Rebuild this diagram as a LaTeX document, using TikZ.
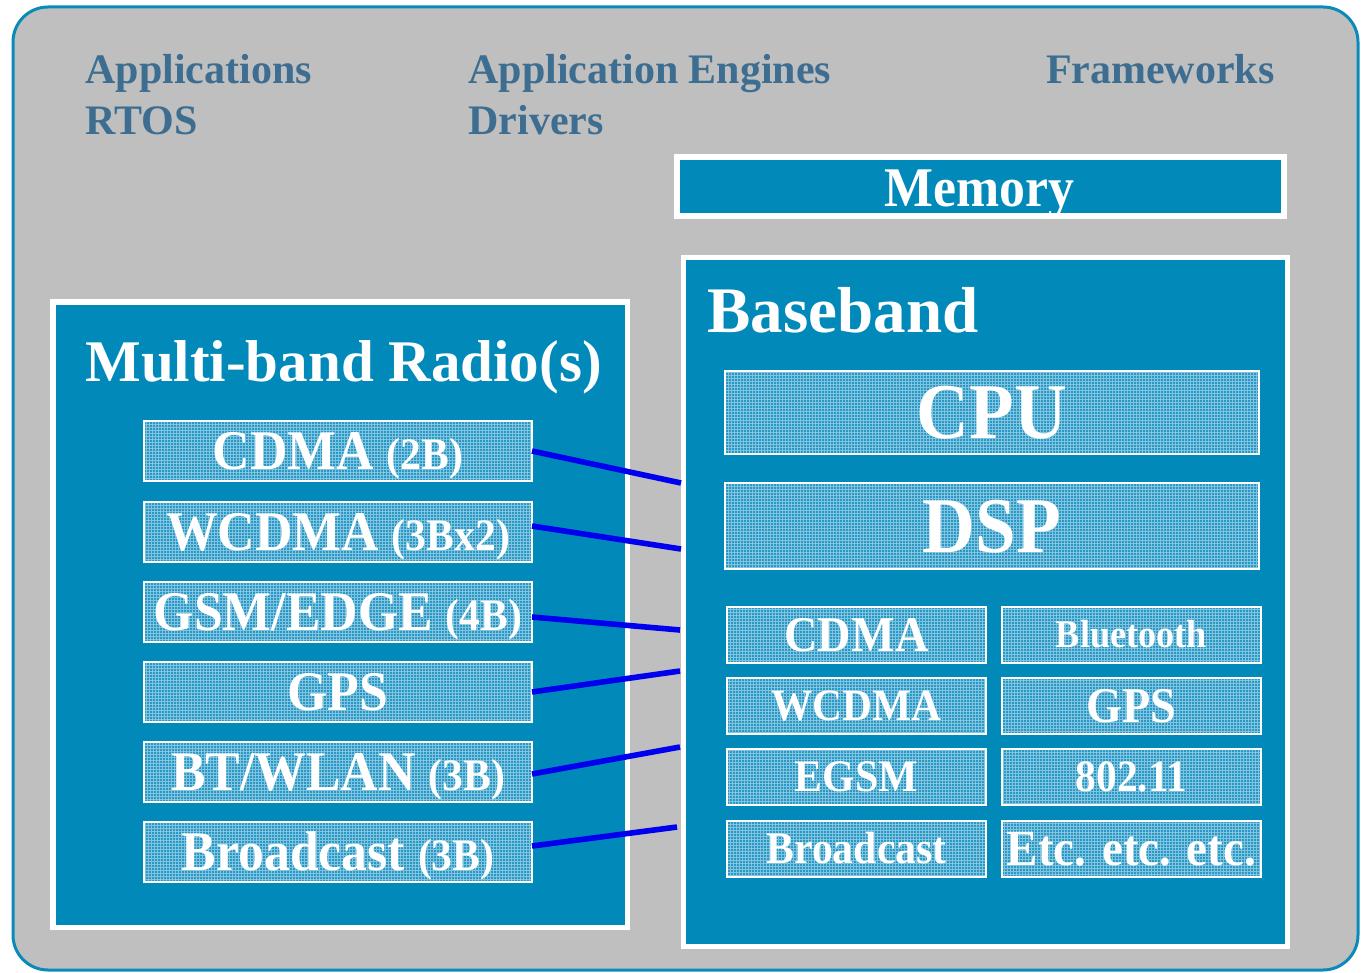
\documentclass[tikz,border=0pt]{standalone}
\usepackage{fontspec}
\setmainfont{Liberation Serif}
\newfontfamily\narrowserif{Liberation Serif}[FakeStretch=0.925]
\definecolor{frameteal}{HTML}{0A8AB8}
\definecolor{boxteal}{HTML}{018AB9}
\definecolor{cellteal}{HTML}{2898C6}
\definecolor{graybg}{HTML}{BFBFBF}
\definecolor{labelblue}{HTML}{3D6E91}
\definecolor{linkblue}{HTML}{0000EE}
\begin{document}
\begin{tikzpicture}[x=0.5pt,y=-0.5pt,
  outerframe/.style={draw=frameteal, line width=1.5pt, fill=graybg,
    rounded corners=17.5pt, inner sep=0pt, outer sep=0pt},
  panel/.style={draw=white, fill=boxteal, inner sep=0pt, outer sep=0pt},
  cellfont/.style={font=\narrowserif\bfseries\fontsize{#1pt}{#1pt}\selectfont,
    text height={0.662*#1pt}, text depth=0pt},
  cell/.style={draw=white, line width=1pt, fill=cellteal, inner sep=0pt,
    outer sep=0pt, text=white,
    path picture={\draw[white, opacity=.42, line width=.35pt, step=1.5pt]
      (path picture bounding box.south west) grid (path picture bounding box.north east);}},
  radiocell/.style={cell, minimum width=194pt, minimum height=30pt, cellfont=28},
  corecell/.style={cell, minimum width=267pt},
  bandcell/.style={cell, minimum width=129.5pt, minimum height=28pt},
  toplabel/.style={text=labelblue, font=\bfseries\fontsize{21pt}{25pt}\selectfont,
    inner sep=0pt},
  title/.style={text=white, inner sep=0pt},
  link/.style={draw=linkblue, line width=2.8pt}
]
\useasboundingbox (0,0) rectangle (1364,973);

% outer rounded frame
\node[outerframe, minimum width=672.5pt, minimum height=481.5pt] (frame) at (685.5,488.5) {};

% software layers
\node[toplabel, anchor=base west] (apps) at (85,84) {Applications};
\node[toplabel, anchor=base west] (rtos) at (85,135) {RTOS};
\node[toplabel, anchor=base west] (engines) at (468,84) {Application Engines};
\node[toplabel, anchor=base west] (drivers) at (468,135) {Drivers};
\node[toplabel, anchor=base east] (frameworks) at (1275,84) {Frameworks};

% memory
\node[panel, line width=3pt, minimum width=303.5pt, minimum height=29.5pt] (memory) at (980.5,186.5) {};
\node[title, anchor=base, font=\narrowserif\bfseries\fontsize{28pt}{28pt}\selectfont] (memorytxt) at (979,206.5) {Memory};

% baseband panel
\node[panel, line width=2.5pt, minimum width=302pt, minimum height=344.5pt] (baseband) at (985.5,602) {};
\node[title, anchor=base west, font=\bfseries\fontsize{32.5pt}{32.5pt}\selectfont] (basebandtxt) at (707,332) {Baseband};

% radio panel
\node[panel, line width=2.75pt, minimum width=287.25pt, minimum height=312.75pt] (radio) at (340,614.5) {};
\node[title, anchor=base west, font=\bfseries\fontsize{29.5pt}{29.5pt}\selectfont] (radiotxt) at (85,381.7) {Multi-band Radio(s)};

% radio front ends
\newcommand{\bandnote}[1]{{\fontsize{22.5pt}{22.5pt}\selectfont#1}}
\node[radiocell] (rcdma) at (338,451) {CDMA \bandnote{(2B)}};
\node[radiocell] (rwcdma) at (338,532) {WCDMA \bandnote{(3Bx2)}};
\node[radiocell] (rgsm) at (338,611.5) {GSM/EDGE \bandnote{(4B)}};
\node[radiocell] (rgps) at (338,692) {GPS};
\node[radiocell] (rbt) at (338,772) {BT/WLAN \bandnote{(3B)}};
\node[radiocell] (rbcast) at (338,852) {Broadcast \bandnote{(3B)}};

% processors
\node[corecell, minimum height=41.5pt, cellfont=39.5] (cpu) at (992,412.5) {CPU};
\node[corecell, minimum height=43pt, cellfont=39.5] (dsp) at (992,526) {DSP};

% baseband modem blocks
\node[bandcell, cellfont=25] (bcdma) at (856.5,635) {CDMA};
\node[bandcell, cellfont=19.6] (bbt) at (1131.5,635) {Bluetooth};
\node[bandcell, cellfont=22.4] (bwcdma) at (856.5,706) {WCDMA};
\node[bandcell, cellfont=25] (bgps) at (1131.5,706) {GPS};
\node[bandcell, cellfont=22.6] (begsm) at (856.5,777) {EGSM};
\node[bandcell, cellfont=22.4] (bwifi) at (1131.5,777) {802.11};
\node[bandcell, cellfont=22.6] (bbcast) at (856.5,848.5) {Broadcast};
\node[bandcell, cellfont=25.4] (betc) at (1131.5,848.5) {Etc. etc. etc.};

% connection points on the baseband edge
\coordinate (bb1) at (681,483);
\coordinate (bb2) at (681,549);
\coordinate (bb3) at (680,630);
\coordinate (bb4) at (680,671);
\coordinate (bb5) at (680,747);
\coordinate (bb6) at (677,827);

% radio to baseband links
\draw[link] (rcdma.east) -- (bb1);
\draw[link] ([yshift=3pt]rwcdma.east) -- (bb2);
\draw[link] ([yshift=-2.75pt]rgsm.east) -- (bb3);
\draw[link] (rgps.east) -- (bb4);
\draw[link] ([yshift=-1pt]rbt.east) -- (bb5);
\draw[link] ([yshift=3pt]rbcast.east) -- (bb6);
\end{tikzpicture}
\end{document}
